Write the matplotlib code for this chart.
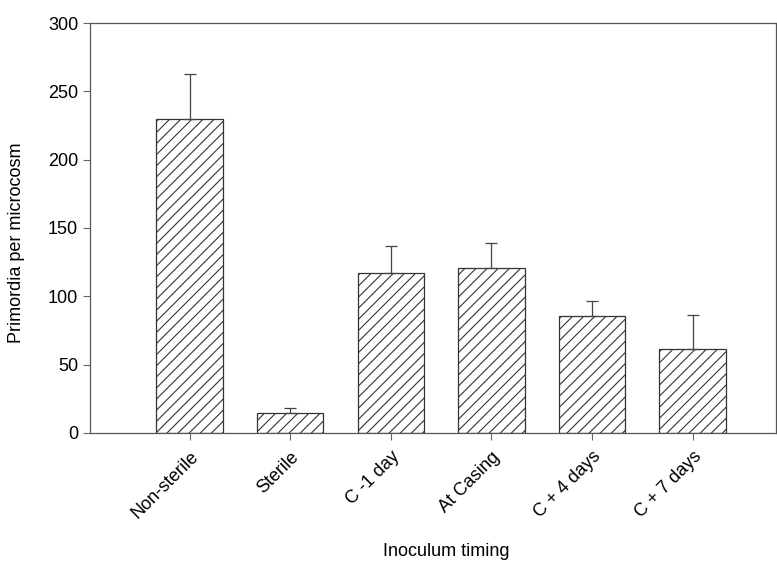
import numpy as np
import matplotlib.pyplot as plt

plt.rcParams['font.family'] = ['Liberation Sans', 'DejaVu Sans']
plt.rcParams['hatch.linewidth'] = 0.8

# data
timing = ['Non-sterile', 'Sterile', 'C -1 day', 'At Casing', 'C + 4 days', 'C + 7 days']
primordia = [230, 14.5, 117, 121, 85.5, 61.5]
err_up = [33, 4, 20, 18, 11, 24.5]

x = np.arange(len(timing))

fig = plt.figure(figsize=(7.77, 5.64), dpi=100)
ax = fig.add_axes([0.1158, 0.2323, 0.883, 0.7269])

ax.bar(x, primordia, width=0.66, color='white', edgecolor='#333333',
       linewidth=0.9, hatch='///', zorder=2)
ax.errorbar(x, primordia, yerr=[np.zeros(len(x)), err_up], fmt='none',
            ecolor='#444444', elinewidth=0.9, capsize=4, capthick=0.9, zorder=3)

ax.set_xlim(-0.99, 5.83)
ax.set_ylim(0, 300)
ax.set_yticks(range(0, 301, 50))
ax.set_xticks(x)
ax.set_xticklabels(timing, rotation=45, ha='right', rotation_mode='anchor', fontsize=13)
ax.tick_params(axis='y', labelsize=13, direction='out', length=5, color='#666666')
ax.tick_params(axis='x', direction='out', length=5, color='#666666', pad=6)
for s in ax.spines.values():
    s.set_color('#555555')
    s.set_linewidth(0.9)

ax.set_ylabel('Primordia per microcosm', fontsize=13)
ax.yaxis.set_label_coords(-0.095, 0.465)
ax.set_xlabel('Inoculum timing', fontsize=13)
ax.xaxis.set_label_coords(0.52, -0.268)

plt.savefig('out.png', dpi=100)
